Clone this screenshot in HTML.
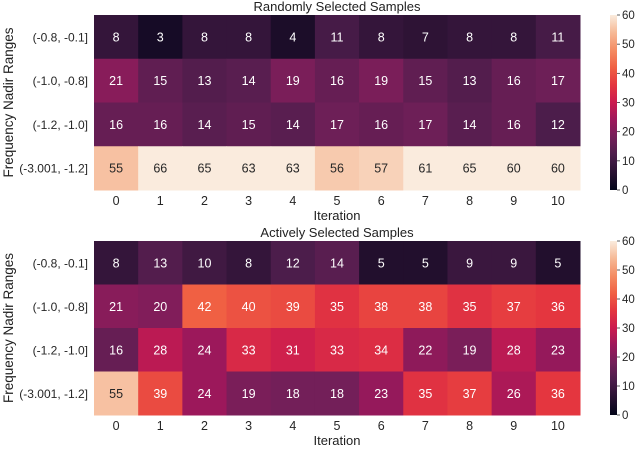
<!DOCTYPE html>
<html><head><meta charset="utf-8"><style>
body{margin:0;background:#fff;}
svg text{font-family:"Liberation Sans",sans-serif;}
</style></head><body>
<svg id="chart" width="640" height="448" xmlns="http://www.w3.org/2000/svg">
<defs>
<linearGradient id="rocket" x1="0" y1="1" x2="0" y2="0">
<stop offset="0" stop-color="rgb(3,5,26)"/><stop offset="0.1" stop-color="rgb(40,17,49)"/><stop offset="0.2" stop-color="rgb(76,29,75)"/><stop offset="0.3" stop-color="rgb(115,31,89)"/><stop offset="0.4" stop-color="rgb(156,24,91)"/><stop offset="0.5" stop-color="rgb(203,27,79)"/><stop offset="0.6" stop-color="rgb(228,54,63)"/><stop offset="0.7" stop-color="rgb(240,96,67)"/><stop offset="0.8" stop-color="rgb(244,140,99)"/><stop offset="0.9" stop-color="rgb(246,185,150)"/><stop offset="1" stop-color="rgb(250,235,221)"/>
</linearGradient>
</defs>
</svg>
<script>
const rowLabels = ["(-0.8, -0.1]","(-1.0, -0.8]","(-1.2, -1.0]","(-3.001, -1.2]"];
const iterations = [0,1,2,3,4,5,6,7,8,9,10];
const randomValues = [
 [8,3,8,8,4,11,8,7,8,8,11],
 [21,15,13,14,19,16,19,15,13,16,17],
 [16,16,14,15,14,17,16,17,14,16,12],
 [55,66,65,63,63,56,57,61,65,60,60]];
const activeValues = [
 [8,13,10,8,12,14,5,5,9,9,5],
 [21,20,42,40,39,35,38,38,35,37,36],
 [16,28,24,33,31,33,34,22,19,28,23],
 [55,39,24,19,18,18,23,35,37,26,36]];
const cbTicks = [0,10,20,30,40,50,60];

const stops=[[0,[3,5,26]],[0.1,[40,17,49]],[0.2,[76,29,75]],[0.3,[115,31,89]],[0.4,[156,24,91]],[0.5,[203,27,79]],[0.6,[228,54,63]],[0.7,[240,96,67]],[0.8,[244,140,99]],[0.9,[246,185,150]],[1,[250,235,221]]];
function cmap(t){t=Math.max(0,Math.min(1,t));for(let i=1;i<stops.length;i++){if(t<=stops[i][0]){const a=stops[i-1],b=stops[i],f=(t-a[0])/(b[0]-a[0]);return a[1].map((v,k)=>Math.round(v+(b[1][k]-v)*f));}}return stops[stops.length-1][1];}
function relLum(c){const l=c.map(v=>{v/=255;return v<=0.03928?v/12.92:Math.pow((v+0.055)/1.055,2.4);});return 0.2126*l[0]+0.7152*l[1]+0.0722*l[2];}
const svg=document.getElementById('chart');const NS="http://www.w3.org/2000/svg";
function mk(tag,attrs,txt){const e=document.createElementNS(NS,tag);for(const k in attrs)e.setAttribute(k,attrs[k]);if(txt!==undefined)e.textContent=txt;svg.appendChild(e);return e;}
const X0=94,X1=580,CBX=610,CBW=7;
function panel(vals,top,bottom,vmax,title,key){
 const cw=(X1-X0)/iterations.length,rh=(bottom-top)/rowLabels.length;
 const xs=i=>X0+i*cw, ys=r=>top+r*rh;
 let t=mk('text',{x:(X0+X1)/2,y:top-4,'text-anchor':'middle','font-size':13,fill:'#222'},title);
 
 
 vals.forEach((row,r)=>row.forEach((v,c)=>{
  const col=cmap(v/vmax);
  const rc=mk('rect',{x:xs(c),y:ys(r),width:cw+0.5,height:rh+0.5,fill:`rgb(${col})`});
  
  
  const tx=mk('text',{x:xs(c)+cw/2,y:ys(r)+rh/2+4.5,'text-anchor':'middle','font-size':12.5,fill:relLum(col)>0.408?'#262626':'#fff'},v);
  
  
 }));
 rowLabels.forEach((l,r)=>{const e=mk('text',{x:88,y:ys(r)+rh/2+4.5,'text-anchor':'end','font-size':12,fill:'#262626'},l);
  
  });
 iterations.forEach((it,c)=>{const e=mk('text',{x:xs(c)+cw/2,y:bottom+15,'text-anchor':'middle','font-size':12.5,fill:'#262626'},it);
  
  });
 const xl=mk('text',{x:(X0+X1)/2,y:bottom+30,'text-anchor':'middle','font-size':13,fill:'#222'},'Iteration');
 
 
 const yl=mk('text',{x:0,y:0,'text-anchor':'middle','font-size':13.5,fill:'#222',transform:`translate(13,${(top+bottom)/2}) rotate(-90)`},'Frequency Nadir Ranges');
 
 
 const cb=mk('rect',{x:CBX,y:top,width:CBW,height:bottom-top,fill:'url(#rocket)'});
 
 
 cbTicks.forEach(v=>{const y=bottom-(v/vmax)*(bottom-top);
  mk('line',{x1:CBX+CBW,x2:CBX+CBW+3,y1:y,y2:y,stroke:'#333','stroke-width':0.8});
  const e=mk('text',{x:CBX+CBW+5,y:y+4,'font-size':11.5,fill:'#262626'},v);
  
  });
}
panel(randomValues,15,190,60,'Randomly Selected Samples','random');
panel(activeValues,241,415,60,'Actively Selected Samples','active');
</script>
</body></html>
